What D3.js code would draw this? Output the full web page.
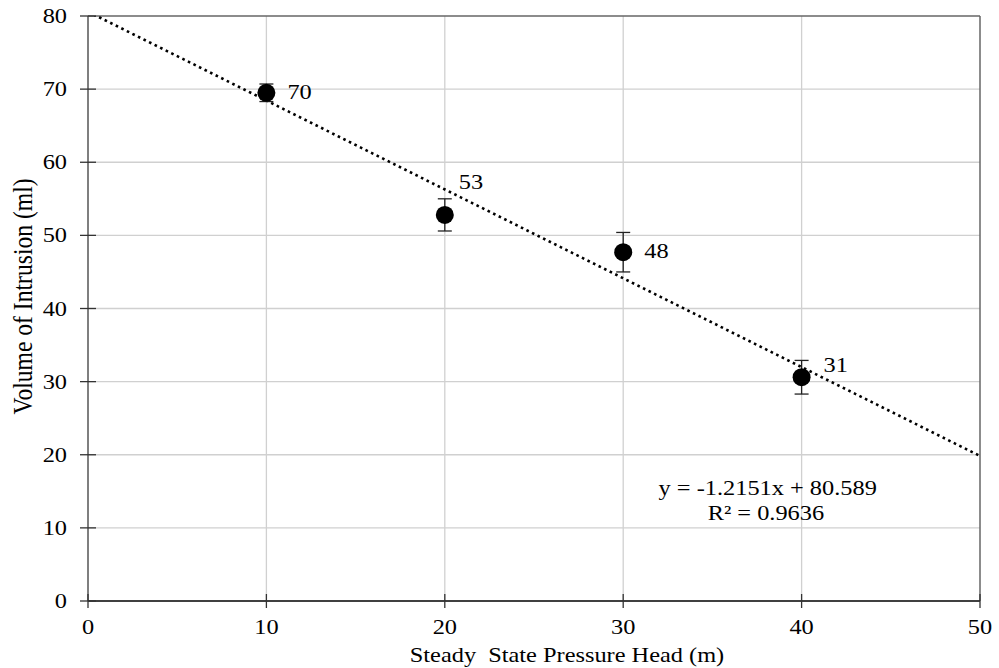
<!DOCTYPE html>
<html lang="en">
<head>
<meta charset="UTF-8">
<title>Volume of Intrusion vs Pressure Head</title>
<style>
  body { margin: 0; background: #fff; }
</style>
</head>
<body>
<div id="chart"></div>
<script src="https://d3js.org/d3.v7.min.js"></script>
<script>
    // Data
    var heads = [10, 20, 30, 40];
    var volumes = [69.5, 52.8, 47.7, 30.6];
    var errors = [1.2, 2.2, 2.7, 2.3];
    var labels = ["70", "53", "48", "31"];
    var xTicks = [0, 10, 20, 30, 40, 50];
    var yTicks = [0, 10, 20, 30, 40, 50, 60, 70, 80];
    var slope = -1.2151, intercept = 80.589;
    var eqLines = ["y = -1.2151x + 80.589", "R\u00b2 = 0.9636"];

    // label offsets from each marker (px)
    var labelOffsets = [[21, 6], [14, -26], [21, 6], [22, -5]];

    var W = 999, H = 668;
    var margin = {top: 16, right: 19, bottom: 67, left: 88};
    var width = W - margin.left - margin.right;
    var height = H - margin.top - margin.bottom;
    var sx = 1.16; // text in the figure is stretched horizontally
    var FONT = "'Liberation Serif', 'DejaVu Serif', serif";

    var svg = d3.select("#chart").append("svg")
        .attr("width", W)
        .attr("height", H);

    var g = svg.append("g")
        .attr("transform", "translate(" + margin.left + "," + margin.top + ")");

    var x = d3.scaleLinear().domain([0, 50]).range([0, width]);
    var y = d3.scaleLinear().domain([0, 80]).range([height, 0]);

    function label(parent, px, py, txt, size, anchor, rot) {
        return parent.append("text")
            .attr("transform", "translate(" + px + "," + py + ") scale(" + sx + ",1)" + (rot ? " rotate(" + rot + ")" : ""))
            .attr("text-anchor", anchor || "start")
            .attr("font-family", FONT)
            .attr("font-size", size)
            .attr("fill", "#000")
            .text(txt);
    }

    // gridlines
    g.selectAll(".hgrid").data(yTicks.slice(1, -1)).enter().append("line")
        .attr("x1", 0).attr("x2", width)
        .attr("y1", d => y(d)).attr("y2", d => y(d))
        .attr("stroke", "#d0d0d0").attr("stroke-width", 1.3);
    g.selectAll(".vgrid").data(xTicks.slice(1, -1)).enter().append("line")
        .attr("y1", 0).attr("y2", height)
        .attr("x1", d => x(d)).attr("x2", d => x(d))
        .attr("stroke", "#d0d0d0").attr("stroke-width", 1.3);

    // frame
    g.append("line").attr("x1", 0).attr("x2", width).attr("y1", 0).attr("y2", 0)
        .attr("stroke", "#666").attr("stroke-width", 1.5);
    g.append("line").attr("x1", width).attr("x2", width).attr("y1", 0).attr("y2", height)
        .attr("stroke", "#666").attr("stroke-width", 1.5);
    g.append("line").attr("x1", 0).attr("x2", 0).attr("y1", 0).attr("y2", height)
        .attr("stroke", "#555").attr("stroke-width", 1.5);
    g.append("line").attr("x1", 0).attr("x2", width).attr("y1", height).attr("y2", height)
        .attr("stroke", "#000").attr("stroke-width", 1.5);

    // tick marks (cross style)
    g.selectAll(".ytick").data(yTicks).enter().append("line")
        .attr("x1", -8).attr("x2", 8)
        .attr("y1", d => y(d)).attr("y2", d => y(d))
        .attr("stroke", "#333").attr("stroke-width", 1.3);
    g.selectAll(".xtick").data(xTicks).enter().append("line")
        .attr("y1", height - 7).attr("y2", height + 7)
        .attr("x1", d => x(d)).attr("x2", d => x(d))
        .attr("stroke", "#333").attr("stroke-width", 1.3);

    // tick labels
    yTicks.forEach(function (d) {
        label(g, -21, y(d) + 7, d, 21, "end");
    });
    xTicks.forEach(function (d) {
        label(g, x(d), height + 33, d, 21, "middle");
    });

    // axis titles
    label(g, width / 2 + 33, height + 61, "Steady\u00a0 State Pressure Head (m)", 21, "middle");
    label(g, -56, height / 2 - 12, "Volume of Intrusion (ml)", 23.6, "middle", -90);

    // trendline, clipped to plot area
    g.append("clipPath").attr("id", "clip").append("rect")
        .attr("width", width).attr("height", height);
    g.append("line")
        .attr("clip-path", "url(#clip)")
        .attr("x1", x(0)).attr("y1", y(intercept))
        .attr("x2", x(50)).attr("y2", y(intercept + slope * 50))
        .attr("stroke", "#000").attr("stroke-width", 2.6)
        .attr("stroke-dasharray", "2.6,3.6");

    // error bars
    var pts = heads.map((h, i) => ({x: h, y: volumes[i], e: errors[i], lab: labels[i], off: labelOffsets[i]}));
    var eb = g.selectAll(".eb").data(pts).enter().append("g");
    eb.append("line")
        .attr("x1", d => x(d.x)).attr("x2", d => x(d.x))
        .attr("y1", d => y(d.y - d.e)).attr("y2", d => y(d.y + d.e))
        .attr("stroke", "#222").attr("stroke-width", 1.3);
    [-1, 1].forEach(function (s) {
        eb.append("line")
            .attr("x1", d => x(d.x) - 7).attr("x2", d => x(d.x) + 7)
            .attr("y1", d => y(d.y + s * d.e)).attr("y2", d => y(d.y + s * d.e))
            .attr("stroke", "#222").attr("stroke-width", 1.3);
    });

    // markers
    g.selectAll(".pt").data(pts).enter().append("circle")
        .attr("cx", d => x(d.x)).attr("cy", d => y(d.y))
        .attr("r", 9).attr("fill", "#000");

    // data labels
    pts.forEach(function (d) {
        label(g, x(d.x) + d.off[0], y(d.y) + d.off[1], d.lab, 21, "start");
    });

    // equation
    label(g, x(38.1), y(14.5), eqLines[0], 21, "middle");
    label(g, x(38.0), y(11.1), eqLines[1], 21, "middle");
</script>
</body>
</html>
